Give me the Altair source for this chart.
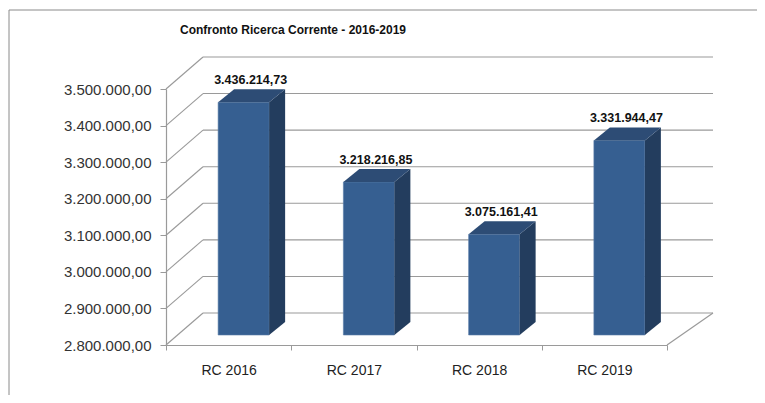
import altair as alt
import pandas as pd

# ---------------- data ----------------
categories = ["RC 2016", "RC 2017", "RC 2018", "RC 2019"]
values = [3436214.73, 3218216.85, 3075161.41, 3331944.47]
y_ticks = [2800000, 2900000, 3000000, 3100000, 3200000, 3300000, 3400000, 3500000]
title_text = "Confronto Ricerca Corrente - 2016-2019"

# ---------------- layout / style ----------------
N = len(categories)
Y0, Y1 = y_ticks[0], y_ticks[-1]
W, H = 501, 256
PAD = {"left": 158, "top": 81, "right": 90, "bottom": 50}
PXX = W / N
PXY = H / (Y1 - Y0)

WALL_DXL, WALL_DXR, WALL_DY = 37, 46, -32      # back wall offset (px)
BAR_SX, BAR_SY = 15, -10                       # bar front plane offset (px)
BAR_W = 51                                     # bar front width (px)
DEP_X, DEP_Y = 16, -13                         # bar depth (px)

FRONT = "#365F91"
TOPC = "#2D4C75"
SIDE = "#233D5E"
GRID = "#9a9a9a"
FRAME = "#8a8a8a"
FONT = "Liberation Sans"


def ux(px):
    return px / PXX


def uy(px):
    return -px / PXY


def it_fmt(v):
    s = f"{v:,.2f}"
    return s.replace(",", "#").replace(".", ",").replace("#", ".")


bars = pd.DataFrame({"cat": categories, "value": values})
bars["xc"] = [i + 0.5 for i in range(N)]
bars["base"] = Y0
bars["label"] = [it_fmt(v) for v in values]

# side faces (parallelograms with vertical edges)
side_rows = []
for i, (c, v) in enumerate(zip(categories, values)):
    xf = i + 0.5 + ux(BAR_SX + BAR_W / 2)
    side_rows.append({"cat": c, "x": xf, "y": v + uy(BAR_SY), "y2": Y0 + uy(BAR_SY)})
    side_rows.append({"cat": c, "x": xf + ux(DEP_X), "y": v + uy(BAR_SY + DEP_Y),
                      "y2": Y0 + uy(BAR_SY + DEP_Y)})
side = pd.DataFrame(side_rows)

# top faces (parallelograms with horizontal edges, drawn as 4-point areas)
top_rows = []
for i, (c, v) in enumerate(zip(categories, values)):
    xl = i + 0.5 + ux(BAR_SX - BAR_W / 2)
    xr = i + 0.5 + ux(BAR_SX + BAR_W / 2)
    yf = v + uy(BAR_SY)
    yb = v + uy(BAR_SY + DEP_Y)
    top_rows += [
        {"cat": c, "x": xl, "y": yf, "y2": yf},
        {"cat": c, "x": xl + ux(DEP_X), "y": yb, "y2": yf},
        {"cat": c, "x": xr, "y": yb, "y2": yf},
        {"cat": c, "x": xr + ux(DEP_X), "y": yb, "y2": yb},
    ]
top = pd.DataFrame(top_rows)

grid = pd.DataFrame({"tick": y_ticks, "x0": [0] * len(y_ticks), "x1": [N] * len(y_ticks)})
floor_edge = pd.DataFrame({"xe": [N], "ye": [Y0]})
title_df = pd.DataFrame({"t": [title_text]})

# ---------------- scales / axes ----------------
xscale = alt.Scale(domain=[0, N], nice=False, zero=False)
yscale = alt.Scale(domain=[Y0, Y1], nice=False, zero=False)

cat_expr = "[" + ",".join("'" + c + "'" for c in categories) + "]"
xaxis = alt.Axis(
    title=None, values=list(range(N + 1)), grid=False,
    tickSize=5, tickColor=GRID, domainColor=GRID, domainWidth=1.2,
    labelExpr=f"datum.value < {N} ? {cat_expr}[datum.value] : ''",
    labelOffset=PXX / 2, labelFlush=False, labelOverlap=False,
    labelFont=FONT, labelFontSize=14, labelColor="#222222", labelPadding=13,
)
yaxis = alt.Axis(
    title=None, values=y_ticks, grid=False,
    tickSize=6, tickColor=GRID, domainColor=GRID, domainWidth=1.2,
    labelExpr="replace(replace(replace(format(datum.value, ',.2f'), regexp(',', 'g'), '#'), regexp('\\\\.', 'g'), ','), regexp('#', 'g'), '.')",
    labelFont=FONT, labelFontSize=15, labelColor="#333333", labelPadding=9,
    labelFlush=False, labelOverlap=False,
)


def X(f):
    return alt.X(f"{f}:Q", scale=xscale, axis=xaxis)


def Y(f):
    return alt.Y(f"{f}:Q", scale=yscale, axis=yaxis, stack=None)


# ---------------- layers ----------------
frame_top = alt.Chart(title_df).mark_rule(color=FRAME, strokeWidth=1).encode(
    x=alt.value(-157), x2=alt.value(591), y=alt.value(-79))
frame_left = alt.Chart(title_df).mark_rule(color=FRAME, strokeWidth=1).encode(
    x=alt.value(-157), y=alt.value(-79), y2=alt.value(306))

title = alt.Chart(title_df).mark_text(
    font=FONT, fontWeight="bold", fontSize=12, color="#111111",
    align="center", baseline="middle").encode(
    x=alt.value(127), y=alt.value(-59), text="t:N")

diag = alt.Chart(grid).mark_rule(color=GRID, strokeWidth=1.1,
                                 x2Offset=WALL_DXL, y2Offset=WALL_DY).encode(
    x=X("x0"), x2="x0", y=Y("tick"), y2="tick")

back_grid = alt.Chart(grid).mark_rule(color=GRID, strokeWidth=1.1,
                                      xOffset=WALL_DXL, x2Offset=WALL_DXR,
                                      yOffset=WALL_DY).encode(
    x=X("x0"), x2="x1", y=Y("tick"))

floor_right = alt.Chart(floor_edge).mark_rule(color=GRID, strokeWidth=1.1,
                                              x2Offset=WALL_DXR, y2Offset=WALL_DY).encode(
    x=X("xe"), x2="xe", y=Y("ye"), y2="ye")

front = alt.Chart(bars).mark_rect(
    color=FRONT, xOffset=BAR_SX - BAR_W / 2, x2Offset=BAR_SX + BAR_W / 2,
    yOffset=BAR_SY, y2Offset=BAR_SY, stroke="#5b7eaa", strokeWidth=0.6).encode(
    x=X("xc"), x2="xc", y=Y("value"), y2="base")

side_l = alt.Chart(side).mark_area(color=SIDE).encode(
    x=X("x"), y=Y("y"), y2="y2", detail="cat:N")

top_l = alt.Chart(top).mark_area(color=TOPC).encode(
    x=X("x"), y=Y("y"), y2="y2", detail="cat:N")

labels = alt.Chart(bars).mark_text(
    font=FONT, fontWeight="bold", fontSize=12.5, color="#111111",
    dx=BAR_SX + 7, dy=BAR_SY - 22, baseline="middle", align="center").encode(
    x=X("xc"), y=Y("value"), text="label:N")

chart = alt.layer(
    frame_top, frame_left, title, diag, back_grid, floor_right,
    front, side_l, top_l, labels
).properties(
    width=W, height=H, padding=PAD, autosize="none", background="white"
).configure_view(stroke=None)

chart.save("out.html", embed_options={"renderer": "svg", "actions": False})
